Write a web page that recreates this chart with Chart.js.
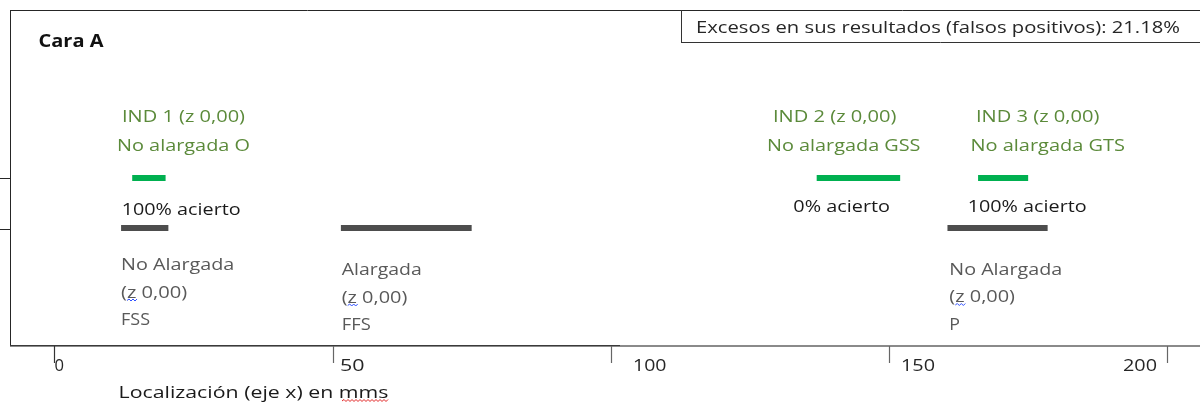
<!DOCTYPE html>
<html>
<head>
<meta charset="utf-8">
<script src="https://cdn.jsdelivr.net/npm/chart.js@4.4.1/dist/chart.umd.min.js"></script>
<style>
  html, body { margin: 0; padding: 0; background: #ffffff; }
  #wrap { width: 1200px; height: 403px; position: relative; }
  canvas { display: block; }
</style>
</head>
<body>
<div id="wrap"><canvas id="c" width="1200" height="403"></canvas></div>
<script>
// ---------- data ----------
const chartTitle = 'Cara A';
const excessText = 'Excesos en sus resultados (falsos positivos): 21.18%';
const axisTitle = 'Localización (eje x) en mms';

const indNames = ['IND 1 (z 0,00)', 'IND 2 (z 0,00)', 'IND 3 (z 0,00)'];
const indTypes = ['No alargada O', 'No alargada GSS', 'No alargada GTS'];
const indStart = [14, 137, 166];
const indEnd   = [20, 152, 175];
const hitLabels = ['100% acierto', '0% acierto', '100% acierto'];

const refTypes = ['No Alargada', 'Alargada', 'No Alargada'];
const refZ     = ['(z 0,00)', '(z 0,00)', '(z 0,00)'];
const refCodes = ['FSS', 'FFS', 'P'];
const refStart = [12, 51.5, 160.5];
const refEnd   = [20.5, 75, 178.5];

const xTicks = [0, 50, 100, 150, 200];

// rows (y values of the two bar rows)
const ROW_IND = 1, ROW_REF = 0;

// ---------- datasets ----------
const datasets = [];
indStart.forEach((s, i) => datasets.push({
  label: indNames[i],
  data: [{x: s, y: ROW_IND}, {x: indEnd[i], y: ROW_IND}],
  borderColor: '#00b050', borderWidth: 6, borderCapStyle: 'butt',
  pointRadius: 0, fill: false, tension: 0
}));
refStart.forEach((s, i) => datasets.push({
  label: refTypes[i] + ' ' + refCodes[i],
  data: [{x: s, y: ROW_REF}, {x: refEnd[i], y: ROW_REF}],
  borderColor: '#4d4d4d', borderWidth: 6, borderCapStyle: 'butt',
  pointRadius: 0, fill: false, tension: 0
}));

// ---------- helpers ----------
function txt(ctx, s, left, right, base, size, color, weight) {
  ctx.font = (weight || 'normal') + ' ' + size + 'px "Open Sans", "DejaVu Sans", sans-serif';
  ctx.fillStyle = color;
  ctx.textAlign = 'left';
  ctx.textBaseline = 'alphabetic';
  if ('letterSpacing' in ctx) ctx.letterSpacing = '0px';
  const w = ctx.measureText(s).width;
  const target = right - left;
  ctx.save();
  ctx.translate(left, base);
  ctx.scale(target / w, 1);
  ctx.fillText(s, 0, 0);
  ctx.restore();
}
function wave(ctx, x0, x1, y, color) {
  ctx.save();
  ctx.strokeStyle = color; ctx.lineWidth = 1;
  ctx.beginPath();
  let up = true;
  ctx.moveTo(x0, y);
  for (let x = x0 + 2; x <= x1; x += 2) {
    ctx.lineTo(x, up ? y - 1.5 : y + 0.5);
    up = !up;
  }
  ctx.stroke();
  ctx.restore();
}
function line(ctx, x0, y0, x1, y1, color, w) {
  ctx.save();
  ctx.strokeStyle = color; ctx.lineWidth = w;
  ctx.beginPath(); ctx.moveTo(x0, y0); ctx.lineTo(x1, y1); ctx.stroke();
  ctx.restore();
}

const decor = {
  id: 'decor',
  beforeDatasetsDraw(chart) {
    const ctx = chart.ctx;
    const ys = chart.scales.y;
    const yInd = ys.getPixelForValue(ROW_IND);
    const yRef = ys.getPixelForValue(ROW_REF);
    // frame
    line(ctx, 10.5, 10, 10.5, 346, '#262626', 1);
    line(ctx, 10, 10.5, 1200, 10.5, '#262626', 1);
    line(ctx, 0, yInd + 0.5, 11, yInd + 0.5, '#262626', 1);
    line(ctx, 0, yRef + 1.5, 11, yRef + 1.5, '#262626', 1);
    // excess box
    line(ctx, 681.5, 10, 681.5, 43, '#333333', 1);
    line(ctx, 681, 42.5, 1200, 42.5, '#333333', 1);
    // axis line
    line(ctx, 10, 346, 1200, 346, '#8a8a8a', 2);
    line(ctx, 10, 345.5, 620, 345.5, '#3a3a3a', 1);
  },
  afterDatasetsDraw(chart) {
    const ctx = chart.ctx;
    const xs = chart.scales.x;
    // ticks
    const labExt = [[54.5, 64], [340, 364.5], [633, 666.5], [901, 935], [1123, 1157]];
    xTicks.forEach((t, i) => {
      const px = Math.round(xs.getPixelForValue(t)) + 0.5;
      line(ctx, px, 346, px, 363, i === 0 ? '#333333' : '#666666', 1.2);
      txt(ctx, String(t), labExt[i][0], labExt[i][1], 370.5, 17, '#262626');
    });
    // titles
    txt(ctx, chartTitle, 38.5, 103.5, 47, 17, '#111111', 'bold');
    txt(ctx, excessText, 696, 1180, 33, 17, '#262626');
    txt(ctx, axisTitle, 118.5, 388.5, 398, 17, '#1a1a1a');
    wave(ctx, 342, 388, 401, '#e02020');

    const green = '#5b8a3a', grey = '#595959', black = '#1a1a1a';
    // IND labels
    const indL1 = [[122, 245], [773, 896.5], [976, 1099.5]];
    const indL2 = [[117, 250], [767, 920.5], [970.5, 1125]];
    const hitL  = [[121.7, 240.7, 215], [793.3, 890, 211.5], [967.7, 1086.7, 211.5]];
    indNames.forEach((s, i) => {
      txt(ctx, s, indL1[i][0], indL1[i][1], 122, 17, green);
      txt(ctx, indTypes[i], indL2[i][0], indL2[i][1], 151, 17, green);
      txt(ctx, hitLabels[i], hitL[i][0], hitL[i][1], hitL[i][2], 17, black);
    });
    // reference labels
    const refPos = [
      {l: 121, r1: 234.3, r2: 187.3, r3: 150, b: 270},
      {l: 341.7, r1: 421.7, r2: 407.3, r3: 370.7, b: 275},
      {l: 949.3, r1: 1062.3, r2: 1015, r3: 960, b: 274.5}
    ];
    refTypes.forEach((s, i) => {
      const p = refPos[i];
      txt(ctx, s, p.l, p.r1, p.b, 17, grey);
      txt(ctx, refZ[i], p.l, p.r2, p.b + 27.5, 17, grey);
      txt(ctx, refCodes[i], p.l, p.r3, p.b + 55, 17, grey);
      wave(ctx, p.l + 6, p.l + 17, p.b + 30.5, '#3050ff');
    });
  }
};

new Chart(document.getElementById('c'), {
  type: 'line',
  data: { datasets },
  options: {
    responsive: false,
    animation: false,
    devicePixelRatio: 1,
    events: [],
    layout: { padding: 0 },
    plugins: { legend: { display: false }, tooltip: { enabled: false }, title: { display: false } },
    scales: {
      x: { type: 'linear', min: -9.757, max: 205.88, display: false },
      y: { type: 'linear', min: -3.5, max: 4.56, display: false }
    }
  },
  plugins: [decor]
});
</script>
</body>
</html>
